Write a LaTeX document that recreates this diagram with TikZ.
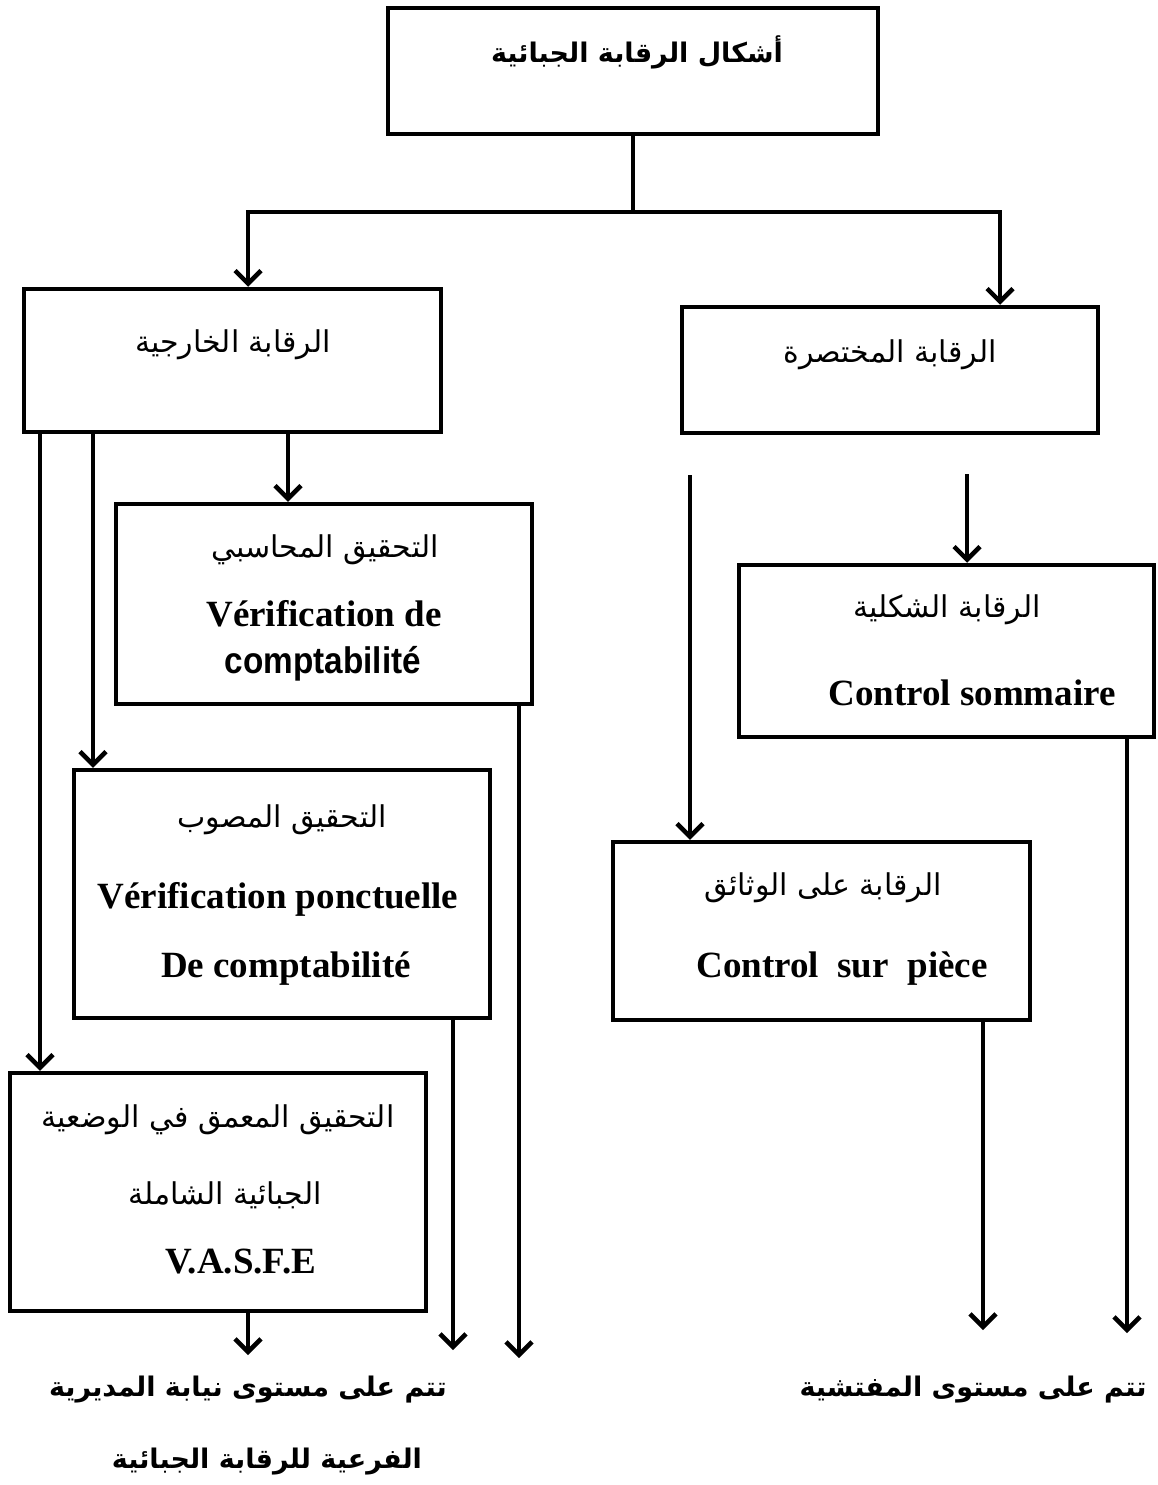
\documentclass[tikz,border=0pt]{standalone}
\usepackage{fontspec}
\setmainfont{Liberation Serif}
\newfontfamily\arabicfont[Script=Arabic]{DejaVu Sans}
\newfontfamily\narrowsans[FakeStretch=0.9]{Liberation Sans}
\TeXXeTstate=1
\usetikzlibrary{arrows.meta}
\begin{document}
\begin{tikzpicture}[x=1pt,y=-1pt,
  box/.style={draw, line width=4.5pt, inner sep=0pt},
  conn/.style={line width=4.5pt},
  arr/.style={line width=4.5pt, -{Straight Barb[length=13pt,width=26pt]}},
  ar/.style={font=\arabicfont\fontsize{30}{33}\selectfont, inner sep=0pt},
  arb/.style={font=\arabicfont\bfseries\fontsize{27}{30}\selectfont, inner sep=0pt},
  lat/.style={font=\bfseries\fontsize{37}{40}\selectfont, inner sep=0pt}]
\useasboundingbox (0,0) rectangle (1157,1485);
% boxes
\node[box, minimum width=490pt, minimum height=126pt] (top) at (633,71) {};
\node[box, minimum width=417pt, minimum height=143pt] (A) at (232.5,360.5) {};
\node[box, minimum width=416pt, minimum height=126pt] (B) at (890,370) {};
\node[box, minimum width=416pt, minimum height=200pt] (C) at (324,604) {};
\node[box, minimum width=416pt, minimum height=248pt] (D) at (282,894) {};
\node[box, minimum width=416pt, minimum height=238pt] (E) at (218,1192) {};
\node[box, minimum width=415pt, minimum height=172pt] (F) at (946.5,651) {};
\node[box, minimum width=417pt, minimum height=178pt] (G) at (821.5,931) {};
% texts
\node[arb] (t0) at (637,52) {\beginR أشكال الرقابة الجبائية\endR};
\node[ar] (tA) at (233,345) {\beginR الرقابة الخارجية\endR};
\node[ar] (tB) at (890,355) {\beginR الرقابة المختصرة\endR};
\node[ar] (tC1) at (325,550) {\beginR التحقيق المحاسبي\endR};
\node[lat] (tC2) at (324,614) {Vérification de};
\node[lat, font=\narrowsans\bfseries\fontsize{37}{40}\selectfont] (tC3) at (323,664) {comptabilité};
\node[ar] (tD1) at (282,820) {\beginR التحقيق المصوب\endR};
\node[lat] (tD2) at (278,899) {Vérification ponctuelle};
\node[lat] (tD3) at (286,969) {De comptabilité};
\node[ar] (tE1) at (218,1120) {\beginR التحقيق المعمق في الوضعية\endR};
\node[ar] (tE2) at (225,1195) {\beginR الجبائية الشاملة\endR};
\node[lat] (tE3) at (241,1262) {V.A.S.F.E};
\node[ar] (tF1) at (947,610) {\beginR الرقابة الشكلية\endR};
\node[lat] (tF2) at (972,693) {Control sommaire};
\node[ar] (tG1) at (823,888) {\beginR الرقابة على الوثائق\endR};
\node[lat] (tG2) at (842,969) {Control\enspace sur\enspace pièce};
\node[arb] (bl1) at (248,1390) {\beginR تتم على مستوى نيابة المديرية\endR};
\node[arb] (bl2) at (267,1462) {\beginR الفرعية للرقابة الجبائية\endR};
\node[arb] (br) at (973,1390) {\beginR تتم على مستوى المفتشية\endR};
% coordinates
\coordinate (j) at (633,212);
\coordinate (jl) at (248,212);
\coordinate (jr) at (1000,212);
\coordinate (c40) at (40,0);
\coordinate (c93) at (93,0);
\coordinate (c288) at (288,0);
\coordinate (c519) at (519,0);
\coordinate (c453) at (453,0);
\coordinate (c248) at (248,0);
\coordinate (c1127) at (1127,0);
\coordinate (c983) at (983,0);
\coordinate (e1) at (519,1358);
\coordinate (e2) at (453,1350);
\coordinate (e3) at (248,1355);
\coordinate (e4) at (1127,1333);
\coordinate (e5) at (983,1330);
\coordinate (s1) at (690,475);
\coordinate (s2) at (967,474);
% connectors
\draw[conn] (top.south) -- (j);
\draw[conn] ([xshift=-2.25pt]jl) -- ([xshift=2.25pt]jr);
\draw[arr] (jl) -- (A.north -| jl);
\draw[arr] (jr) -- (B.north -| jr);
\draw[arr] (A.south -| c40) -- (E.north -| c40);
\draw[arr] (A.south -| c93) -- (D.north -| c93);
\draw[arr] (A.south -| c288) -- (C.north -| c288);
\draw[arr] (C.south -| c519) -- (e1);
\draw[arr] (D.south -| c453) -- (e2);
\draw[arr] (E.south -| c248) -- (e3);
\draw[arr] (s1) -- (G.north -| s1);
\draw[arr] (s2) -- (F.north -| s2);
\draw[arr] (F.south -| c1127) -- (e4);
\draw[arr] (G.south -| c983) -- (e5);
\end{tikzpicture}
\end{document}
